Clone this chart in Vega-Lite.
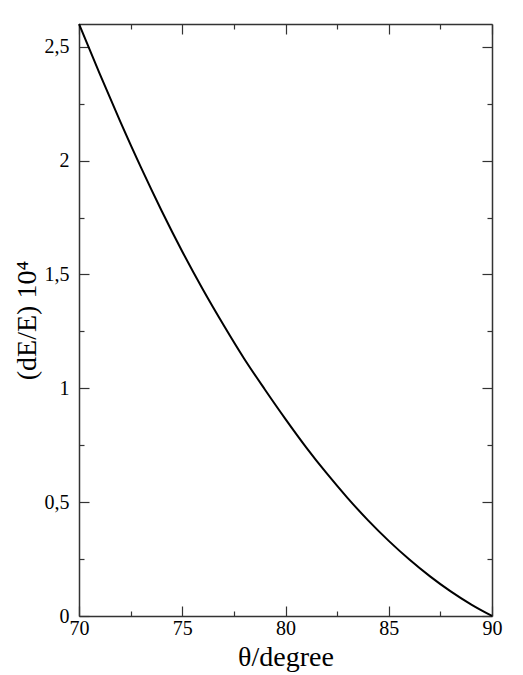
{
  "$schema": "https://vega.github.io/schema/vega-lite/v6.json",
  "description": "Relative energy change (dE/E) times 10^4 against angle theta in degrees.",
  "width": 413,
  "height": 592,
  "autosize": {"type": "none"},
  "padding": {"left": 79, "top": 24, "right": 31, "bottom": 59},
  "background": "white",
  "config": {
    "view": {"stroke": null},
    "font": "Liberation Serif",
    "axis": {
      "grid": false,
      "domainColor": "#333",
      "domainWidth": 1.5,
      "tickColor": "#333",
      "tickWidth": 1.2,
      "labelFont": "Liberation Serif",
      "labelFontSize": 20,
      "labelColor": "black",
      "labelOverlap": false,
      "labelFlush": false,
      "titleFont": "Liberation Serif",
      "titleFontSize": 28,
      "titleFontWeight": "normal",
      "titleColor": "black"
    }
  },
  "data": {
    "values": [
      {"theta": 70, "dE": 2.6},
      {"theta": 71, "dE": 2.382},
      {"theta": 72, "dE": 2.171},
      {"theta": 73, "dE": 1.97},
      {"theta": 74, "dE": 1.78},
      {"theta": 75, "dE": 1.601},
      {"theta": 76, "dE": 1.434},
      {"theta": 77, "dE": 1.278},
      {"theta": 78, "dE": 1.13},
      {"theta": 79, "dE": 0.995},
      {"theta": 80, "dE": 0.865},
      {"theta": 81, "dE": 0.741},
      {"theta": 82, "dE": 0.626},
      {"theta": 83, "dE": 0.519},
      {"theta": 84, "dE": 0.42},
      {"theta": 85, "dE": 0.33},
      {"theta": 86, "dE": 0.248},
      {"theta": 87, "dE": 0.174},
      {"theta": 88, "dE": 0.108},
      {"theta": 89, "dE": 0.05},
      {"theta": 90, "dE": 0}
    ]
  },
  "layer": [
    {
      "mark": {"type": "line", "color": "black", "strokeWidth": 2, "interpolate": "monotone"},
      "encoding": {
        "x": {
          "field": "theta",
          "type": "quantitative",
          "scale": {"domain": [70, 90], "nice": false, "zero": false},
          "axis": {
            "orient": "bottom",
            "values": [70, 72.5, 75, 77.5, 80, 82.5, 85, 87.5, 90],
            "tickSize": {"condition": {"test": "datum.value % 5 !== 0", "value": -5}, "value": -10},
            "labelExpr": "datum.value % 5 ? '' : format(datum.value, 'd')",
            "labelPadding": 12,
            "title": "θ/degree",
            "titlePadding": 0
          }
        },
        "y": {
          "field": "dE",
          "type": "quantitative",
          "scale": {"domain": [0, 2.6], "nice": false},
          "axis": {
            "orient": "left",
            "values": [0, 0.25, 0.5, 0.75, 1, 1.25, 1.5, 1.75, 2, 2.25, 2.5],
            "tickSize": {"condition": {"test": "(datum.value * 2) % 1 !== 0", "value": -5}, "value": -10},
            "labelExpr": "(datum.value * 2) % 1 ? '' : replace(format(datum.value, '~r'), '.', ',')",
            "labelPadding": 20,
            "title": "(dE/E) 10⁴",
            "titlePadding": 3
          }
        }
      }
    },
    {
      "mark": {"type": "line", "opacity": 0},
      "encoding": {
        "x": {
          "field": "theta",
          "type": "quantitative",
          "axis": {
            "orient": "top",
            "values": [70, 72.5, 75, 77.5, 80, 82.5, 85, 87.5, 90],
            "tickSize": {"condition": {"test": "datum.value % 5 !== 0", "value": -5}, "value": -10},
            "labels": false,
            "title": null
          }
        },
        "y": {
          "field": "dE",
          "type": "quantitative",
          "axis": {
            "orient": "right",
            "values": [0, 0.25, 0.5, 0.75, 1, 1.25, 1.5, 1.75, 2, 2.25, 2.5],
            "tickSize": {"condition": {"test": "(datum.value * 2) % 1 !== 0", "value": -5}, "value": -10},
            "labels": false,
            "title": null
          }
        }
      }
    }
  ],
  "resolve": {"axis": {"x": "independent", "y": "independent"}}
}
